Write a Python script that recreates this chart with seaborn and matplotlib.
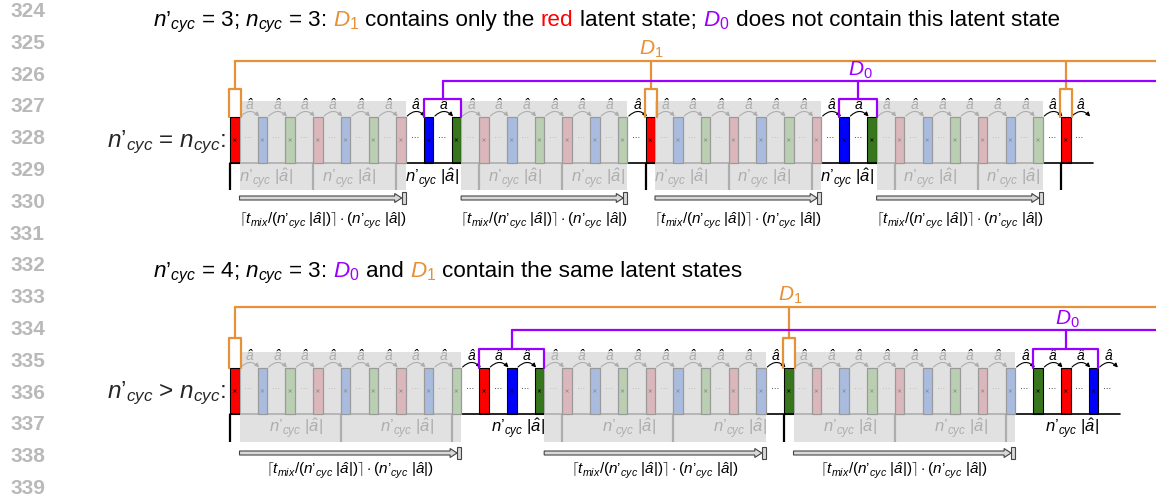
import numpy as np
import pandas as pd
import matplotlib
matplotlib.use("Agg")
import matplotlib.pyplot as plt
from matplotlib.patches import Rectangle, FancyArrowPatch, FancyArrow
import seaborn as sns

# ---------------- data ----------------
line_numbers = list(range(324, 340))
cycle_colors = ["#ff0000", "#0000ff", "#38761d"]          # red, blue, green latent states
cycle_pale = ["#dbb6ba", "#a9bcdf", "#bacfb1"]            # same states, greyed out
ORANGE = "#e69138"
PURPLE = "#9900ff"

title1_pieces = [("$n’_{cyc}$ = 3; $n_{cyc}$ = 3: ", "black"), ("$D_{1}$", ORANGE),
                 (" contains only the ", "black"), ("red", "#ff0000"),
                 (" latent state; ", "black"), ("$D_{0}$", PURPLE),
                 (" does not contain this latent state", "black")]
title2_pieces = [("$n’_{cyc}$ = 4; $n_{cyc}$ = 3: ", "black"), ("$D_{0}$", PURPLE),
                 (" and ", "black"), ("$D_{1}$", ORANGE),
                 (" contain the same latent states", "black")]
row1_label = "$n’_{cyc}$ = $n_{cyc}$:"
row2_label = "$n’_{cyc}$ > $n_{cyc}$:"

row1_n_bars = 31
row1_nprime = 3
row1_d1 = [0, 15, 30]
row1_d0 = [[7, 8], [22, 23]]
row1_gray = [(0, 6), (8, 14), (15, 21), (23, 29)]

row2_n_bars = 32
row2_nprime = 4
row2_d1 = [0, 20]
row2_d0 = [[9, 10, 11], [29, 30, 31]]
row2_gray = [(0, 8), (11, 19), (20, 28)]

step_label = "â"
cycle_label = r"$n’_{cyc}\ |\hat{a}|$"
formula_label = r"$\lceil t_{mix}/(n’_{cyc}\ |\hat{a}|)\rceil\cdot(n’_{cyc}\ |\hat{a}|)$"
d1_label = "$D_{1}$"
d0_label = "$D_{0}$"

# ---------------- style ----------------
sns.set_theme(style="white")
plt.rcParams["font.family"] = ["Liberation Sans", "DejaVu Sans"]
plt.rcParams["mathtext.fontset"] = "custom"
plt.rcParams["mathtext.rm"] = "Liberation Sans"
plt.rcParams["mathtext.it"] = "Liberation Sans:italic"
plt.rcParams["mathtext.bf"] = "Liberation Sans:bold"

W, H = 1156, 497
fig = plt.figure(figsize=(W / 100, H / 100), dpi=100)
ax = fig.add_axes([0, 0, 1, 1])
ax.set_xlim(0, W)
ax.set_ylim(H, 0)
ax.axis("off")
renderer = fig.canvas.get_renderer()

X0, PITCH, BAR_W = 230.0, 27.7, 9.5


def bx(i):
    return X0 + PITCH * i


# line numbers
for n in line_numbers:
    ax.text(45, 9.5 + 31.8 * (n - 324) + 7.5, str(n), ha="right", va="baseline",
            fontsize=15, fontweight="bold", color="#b9b9b9")


def draw_pieces(pieces, x, y, fs):
    sp = fs * 100 / 72 * 0.278
    for s, c in pieces:
        if s.startswith(" "):
            x += sp
        t = ax.text(x, y, s.strip(), color=c, fontsize=fs, ha="left", va="baseline")
        bb = t.get_window_extent(renderer)
        x = bb.x1
        if s.endswith(" "):
            x += sp


ROW1 = dict(top=117, base=163, gtop=101, lbot=190, oy=61, obox=89, py=81, pbr=99,
            label_y=179, lshift=-6, ay=198, fy=221, title_y=26, rl_y=147)
ROW2 = dict(top=368, base=414, gtop=352, lbot=442, oy=307, obox=338, py=330, pbr=349,
            label_y=429, lshift=11, ay=453, fy=471, title_y=277, rl_y=398)


def draw_row(n_bars, nprime, d1, d0, gray, g, title, rlabel):
    top, base = g["top"], g["base"]
    draw_pieces(title, 153, g["title_y"], 16.2)
    ax.text(226, g["rl_y"], rlabel, fontsize=17.5, ha="right", va="baseline")

    xs = np.array([bx(i) for i in range(n_bars)])
    greyed = np.array([any(a < i <= b for a, b in gray) for i in range(n_bars)])
    colors = [cycle_pale[i % 3] if greyed[i] else cycle_colors[i % 3]
              for i in range(n_bars)]
    edges = ["#9a9a9a" if greyed[i] else "black" for i in range(n_bars)]
    # full-colour bars under the grey veil, pale bars drawn above it
    full = ~greyed
    ax.bar(xs[full], base - top, width=BAR_W, bottom=top, align="edge",
           color=[c for c, f in zip(colors, full) if f],
           edgecolor="black", linewidth=0.8, zorder=2)
    ax.bar(xs[greyed], base - top, width=BAR_W, bottom=top, align="edge",
           color=[c for c, f in zip(colors, greyed) if f],
           edgecolor="#9a9a9a", linewidth=0.9, zorder=6)
    df = pd.DataFrame({"x": xs + BAR_W / 2, "y": np.full(n_bars, (top + base) / 2),
                       "kind": np.where(greyed, "pale", "full")})
    sns.scatterplot(data=df, x="x", y="y", hue="kind",
                    palette={"pale": "#8a8a8a", "full": "black"}, marker="x", s=5,
                    linewidth=0.4, ax=ax, zorder=7, legend=False)

    mid = (top + base) / 2 - 1
    for i in range(n_bars):
        a = xs[i] + BAR_W
        b = bx(i + 1)
        ax.text((a + b) / 2, mid, "···", ha="center", va="center", fontsize=6,
                color="black", zorder=3)
        arr = FancyArrowPatch((a + 1.5, top - 1), (b + 1.5, top - 0.5),
                              connectionstyle="arc3,rad=-0.5", arrowstyle="-|>",
                              mutation_scale=6, lw=0.8, color="black",
                              shrinkA=0, shrinkB=0, zorder=3)
        ax.add_patch(arr)
        ax.text((a + b) / 2 + 1, top - 12, step_label, ha="center", va="center",
                fontsize=10, style="italic", color="black", zorder=3)

    ax.plot([xs[0], bx(n_bars) + 4], [base, base], color="black", lw=1.2, zorder=2)

    for k in range(0, n_bars, nprime):
        ax.plot([xs[k], xs[k]], [base, g["lbot"]], color="black", lw=1.6, zorder=2,
                solid_capstyle="butt")
        if k + nprime <= n_bars:
            cx = (bx(k) + bx(k + nprime)) / 2 + g["lshift"]
            ax.text(cx, g["label_y"], cycle_label, fontsize=12, ha="center",
                    va="center", color="black", zorder=3)

    for a_i, b_i in gray:
        left = bx(a_i) + BAR_W
        right = bx(b_i) + BAR_W
        ax.add_patch(Rectangle((left, g["gtop"]), right - left, g["lbot"] - g["gtop"],
                               fc="#dadada", alpha=0.8, ec="none", zorder=5))
        ax.add_patch(FancyArrow(left, g["ay"], right - left - 4, 0, width=4,
                                head_width=9, head_length=7, length_includes_head=True,
                                fc="#d9d9d9", ec="#444444", lw=0.8, zorder=4))
        ax.add_patch(Rectangle((right - 4, g["ay"] - 6), 4, 12, fc="#d9d9d9",
                               ec="#444444", lw=0.8, zorder=4))
        ax.text((left + right) / 2, g["fy"], formula_label, fontsize=11,
                ha="center", va="center", color="black", zorder=4)

    # D1 markers (orange)
    d1_centers = []
    for i in d1:
        xl, xr = bx(i) - 1, bx(i) + BAR_W + 1.5
        ax.plot([xl, xl, xr, xr], [top, g["obox"], g["obox"], top], color=ORANGE,
                lw=1.6, zorder=8)
        cx = (xl + xr) / 2
        d1_centers.append(cx)
        ax.plot([cx, cx], [g["oy"], g["obox"]], color=ORANGE, lw=1.6, zorder=8)
    ax.plot([d1_centers[0], W], [g["oy"], g["oy"]], color=ORANGE, lw=1.6, zorder=8)
    ax.text(d1_centers[1] + 1, g["oy"] - 12, d1_label, color=ORANGE, fontsize=15,
            ha="center", va="center", zorder=8)

    # D0 markers (purple)
    d0_centers = []
    for grp in d0:
        xl, xr = bx(grp[0]), bx(grp[-1]) + BAR_W
        ax.plot([xl, xl, xr, xr], [top, g["pbr"], g["pbr"], top], color=PURPLE,
                lw=1.6, zorder=8)
        cx = (xl + xr) / 2
        d0_centers.append(cx)
        ax.plot([cx, cx], [g["py"], g["pbr"]], color=PURPLE, lw=1.6, zorder=8)
    ax.plot([d0_centers[0], W], [g["py"], g["py"]], color=PURPLE, lw=1.6, zorder=8)
    ax.text(d0_centers[1] + 2, g["py"] - 11, d0_label, color=PURPLE, fontsize=15,
            ha="center", va="center", zorder=8)


draw_row(row1_n_bars, row1_nprime, row1_d1, row1_d0, row1_gray, ROW1,
         title1_pieces, row1_label)
draw_row(row2_n_bars, row2_nprime, row2_d1, row2_d0, row2_gray, ROW2,
         title2_pieces, row2_label)

ax.set_xlim(0, W)
ax.set_ylim(H, 0)
fig.savefig("out.png", dpi=100, facecolor="white")
